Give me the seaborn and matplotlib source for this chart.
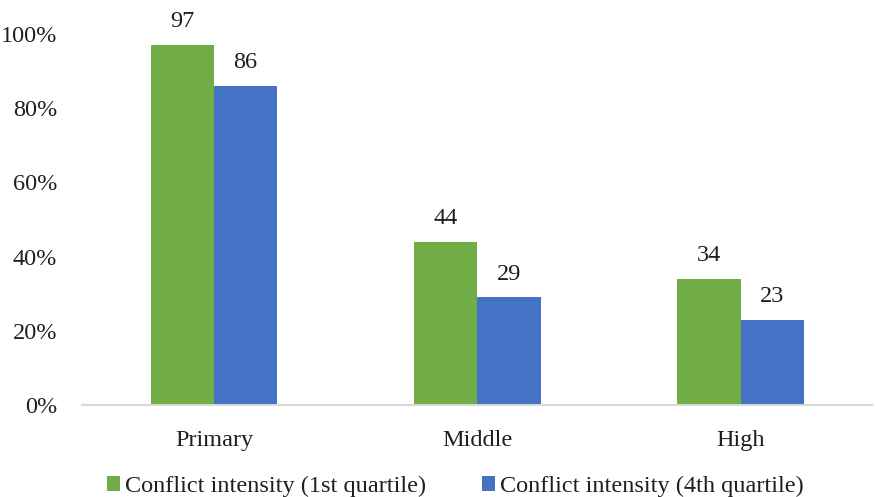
import matplotlib
matplotlib.use("Agg")
import matplotlib.pyplot as plt
from matplotlib.ticker import FuncFormatter
import seaborn as sns
import pandas as pd

levels = ["Primary", "Middle", "High"]
series = ["Conflict intensity (1st quartile)", "Conflict intensity (4th quartile)"]
q1_values = [97, 44, 34]
q4_values = [86, 29, 23]
colors = ["#70AD47", "#4472C4"]

df = pd.DataFrame({
    "level": levels * 2,
    "series": [series[0]] * 3 + [series[1]] * 3,
    "value": q1_values + q4_values,
})

sns.set_theme(style="white")
plt.rcParams["font.family"] = ["Liberation Serif", "DejaVu Serif"]
text_color = "#1f1f1f"
fs = 17.5

fig = plt.figure(figsize=(8.75, 4.97), dpi=100)
ax = fig.add_axes([0.094, 0.185, 0.903, 0.747])

sns.barplot(data=df, x="level", y="value", hue="series", palette=colors,
            width=0.48, saturation=1, linewidth=0, ax=ax, legend=True)

for container in ax.containers:
    ax.bar_label(container, fmt="%d", padding=9, fontsize=fs, color=text_color)

ax.set_ylim(0, 100)
ax.set_yticks(range(0, 101, 20))
ax.yaxis.set_major_formatter(FuncFormatter(lambda v, _: f"{int(v)}%"))
ax.set_xlabel("")
ax.set_ylabel("")
ax.tick_params(axis="both", length=0, labelsize=fs, colors=text_color)
ax.tick_params(axis="y", pad=18)
ax.tick_params(axis="x", pad=18)

for side in ["top", "right", "left"]:
    ax.spines[side].set_visible(False)
ax.spines["bottom"].set_color("#D9D9D9")
ax.spines["bottom"].set_linewidth(1.5)

handles, labels = ax.get_legend_handles_labels()
ax.legend(handles, labels, loc="center", bbox_to_anchor=(0.472, -0.22),
          ncol=2, frameon=False, fontsize=fs, handlelength=0.55, handleheight=0.55,
          handletextpad=0.2, columnspacing=2.3, labelcolor=text_color,
          borderaxespad=0, borderpad=0)

ax.patch.set_alpha(0)
fig.savefig("out.png", dpi=100)
